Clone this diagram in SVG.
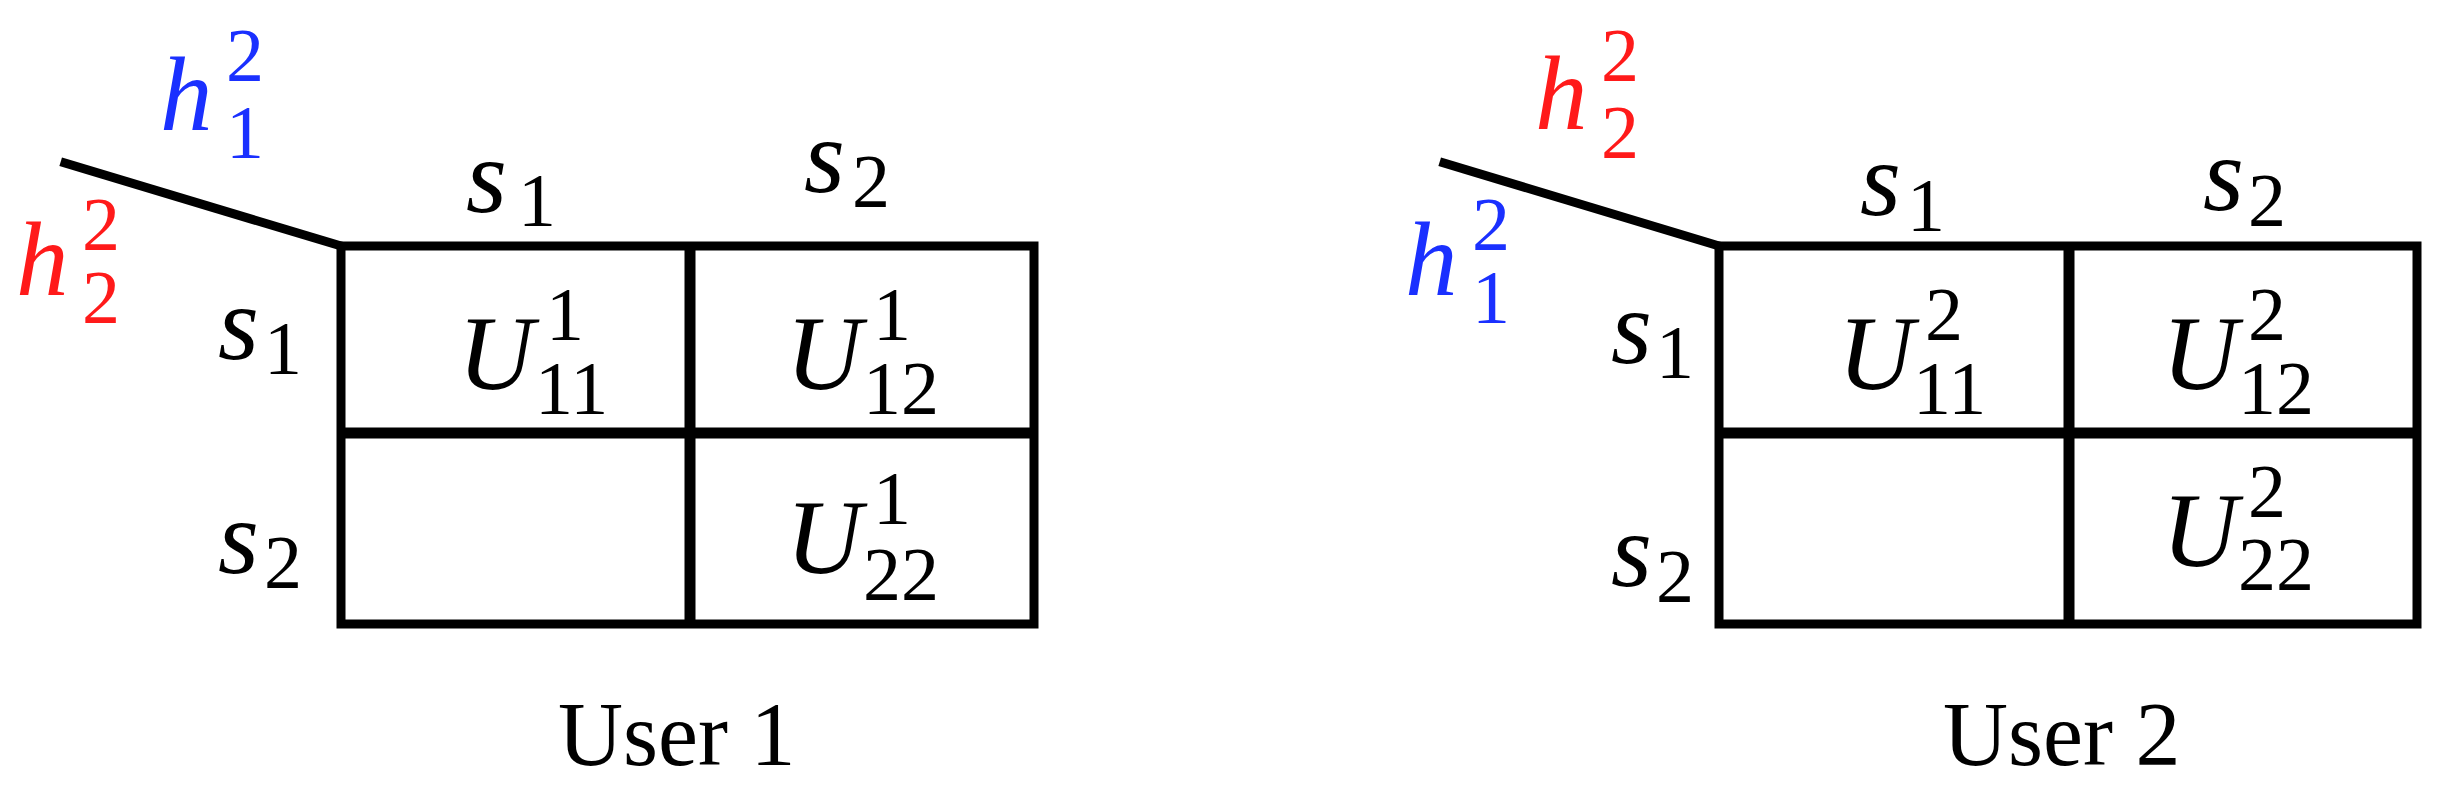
<svg xmlns="http://www.w3.org/2000/svg" width="2437" height="792" viewBox="0 0 2437 792">
<style>
.m{font-family:"Liberation Serif","DejaVu Serif",serif;font-style:italic;font-size:105px;fill:#000}
.d{font-family:"Liberation Serif",serif;font-size:76px;fill:#000}
.t{font-family:"Liberation Serif",serif;font-size:90px;fill:#000}
.b{fill:#1a30ff}.r{fill:#ff1a1a}
.o{stroke:#000;stroke-width:9;fill:none;stroke-linecap:square}
.i{stroke:#000;stroke-width:11;fill:none}
</style>
<rect width="2437" height="792" fill="#fff"/>
<g id="user1">
<rect class="o" x="341" y="246" width="693" height="378"/>
<line class="i" x1="690" y1="246" x2="690" y2="624"/>
<line class="i" x1="341" y1="433" x2="1034" y2="433"/>
<line class="o" x1="65" y1="163" x2="341" y2="246" stroke-width="10"/>
<text class="m b" x="160" y="130">h</text><text class="d b" x="226" y="81">2</text><text class="d b" x="226" y="158">1</text>
<text class="m r" x="16" y="295">h</text><text class="d r" x="82" y="250">2</text><text class="d r" x="82" y="323">2</text>
<text class="m" x="466" y="212">s</text><text class="d" x="518" y="226">1</text>
<text class="m" x="804" y="192">s</text><text class="d" x="852" y="207">2</text>
<text class="m" x="218" y="359">s</text><text class="d" x="264" y="374">1</text>
<text class="m" x="218" y="573">s</text><text class="d" x="264" y="588">2</text>
<text class="m" x="458" y="389">U</text><text class="d" x="546" y="340">1</text><text class="d" x="535" y="414">11</text>
<text class="m" x="786" y="389">U</text><text class="d" x="873" y="340">1</text><text class="d" x="863" y="414">12</text>
<text class="m" x="786" y="573">U</text><text class="d" x="873" y="524">1</text><text class="d" x="863" y="600">22</text>
<text class="t" x="558" y="765">User 1</text>
</g>
<g id="user2">
<rect class="o" x="1719" y="246" width="698" height="378"/>
<line class="i" x1="2069" y1="246" x2="2069" y2="624"/>
<line class="i" x1="1719" y1="433" x2="2417" y2="433"/>
<line class="o" x1="1444" y1="163" x2="1719" y2="246" stroke-width="10"/>
<text class="m r" x="1535" y="129">h</text><text class="d r" x="1601" y="81">2</text><text class="d r" x="1601" y="158">2</text>
<text class="m b" x="1405" y="295">h</text><text class="d b" x="1472" y="250">2</text><text class="d b" x="1472" y="323">1</text>
<text class="m" x="1860" y="215">s</text><text class="d" x="1907" y="231">1</text>
<text class="m" x="2203" y="210">s</text><text class="d" x="2248" y="226">2</text>
<text class="m" x="1611" y="363">s</text><text class="d" x="1656" y="378">1</text>
<text class="m" x="1611" y="586">s</text><text class="d" x="1656" y="602">2</text>
<text class="m" x="1838" y="389">U</text><text class="d" x="1925" y="340">2</text><text class="d" x="1913" y="414">11</text>
<text class="m" x="2162" y="389">U</text><text class="d" x="2248" y="340">2</text><text class="d" x="2238" y="414">12</text>
<text class="m" x="2162" y="566">U</text><text class="d" x="2248" y="517">2</text><text class="d" x="2238" y="590">22</text>
<text class="t" x="1943" y="765">User 2</text>
</g>
<g id="connectors"/>
</svg>
